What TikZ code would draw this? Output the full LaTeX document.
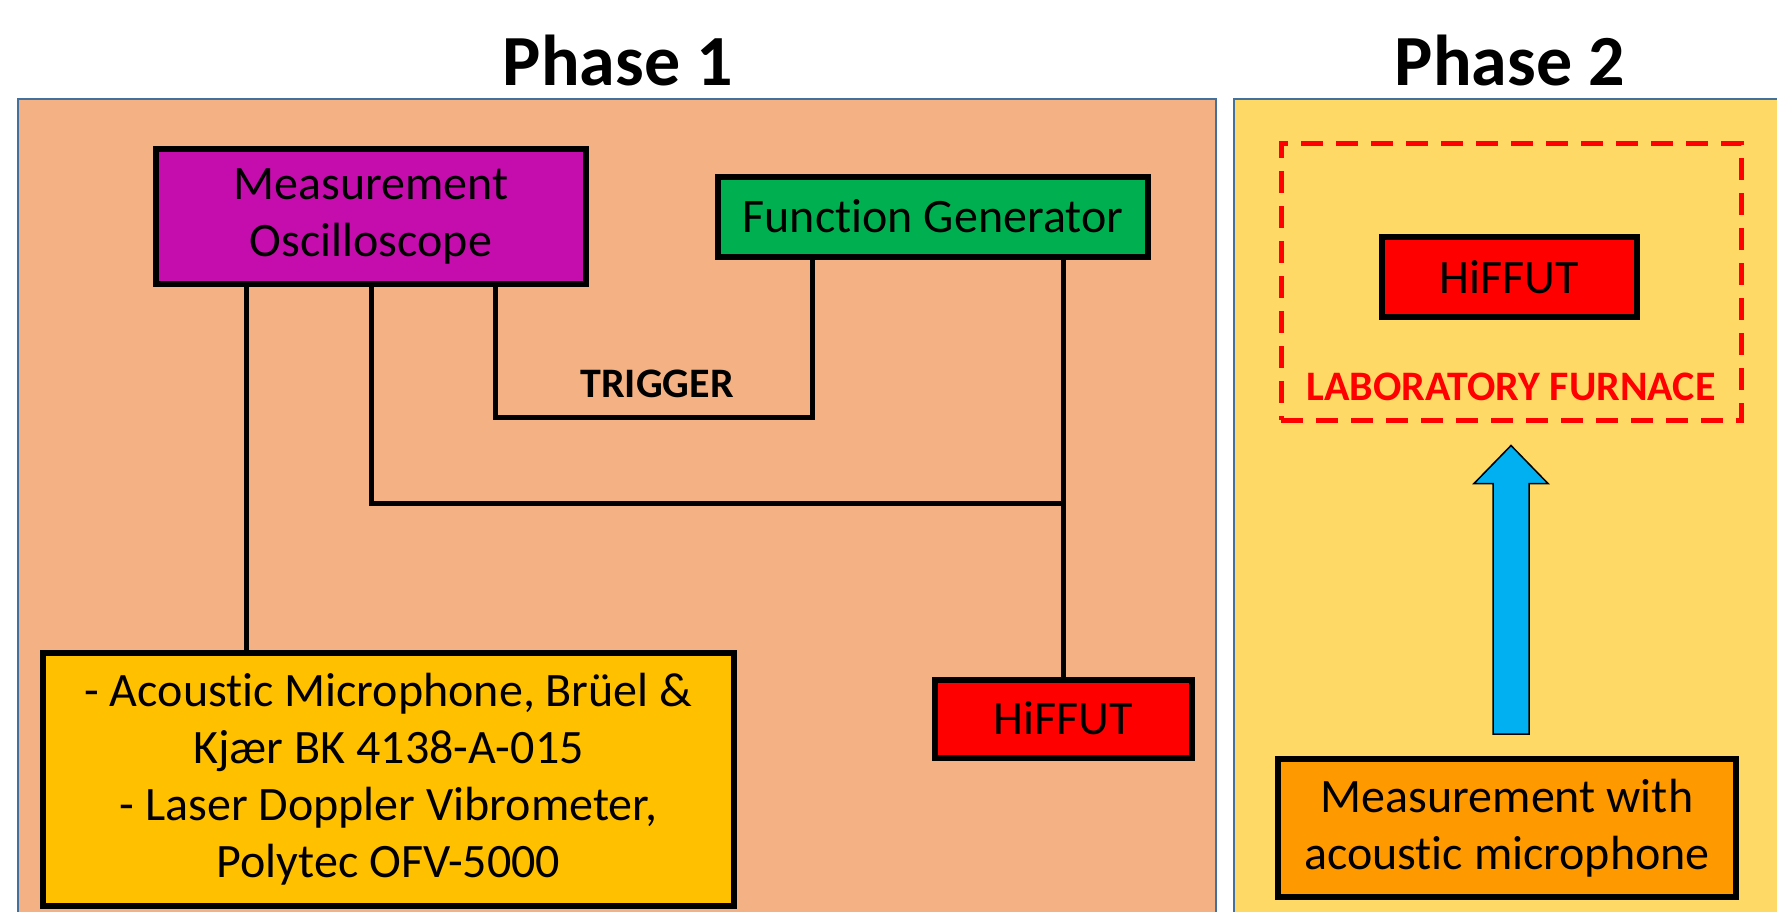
\documentclass[tikz,border=0pt]{standalone}
\usepackage{fontspec}
\setmainfont{Carlito}[Ligatures={NoCommon,NoDiscretionary,NoContextual}]
\usetikzlibrary{calc}
\definecolor{phaseone}{HTML}{F4B183}
\definecolor{phasetwo}{HTML}{FFD966}
\definecolor{panelline}{HTML}{41719C}
\definecolor{scopemag}{HTML}{C50CAC}
\definecolor{gengreen}{HTML}{00B050}
\definecolor{sensoryel}{HTML}{FFC000}
\definecolor{measorange}{HTML}{FF9900}
\definecolor{arrowblue}{HTML}{00B0F0}
\begin{document}
\begin{tikzpicture}[x=1pt,y=-1pt,
  box/.style={draw=black,line width=6pt,inner sep=0pt,align=center,
    font=\fontsize{48}{57}\selectfont},
  wire/.style={line width=5pt},
  panel/.style={draw=panelline,line width=2pt},
  title/.style={font=\fontsize{72}{80}\selectfont\bfseries},
  lbl/.style={font=\fontsize{42}{50}\selectfont\bfseries}]
\useasboundingbox (0,0) rectangle (1777,911);
% panels
\draw[panel,fill=phaseone] (18,99) rectangle (1216,930);
\draw[panel,fill=phasetwo] (1234,99) rectangle (1800,930);
\node[title,anchor=base] (ph1) at (618,85) {Phase 1};
\node[title,anchor=base] (ph2) at (1510,85) {Phase 2};
% phase 1
\node[box,fill=scopemag,minimum width=430pt,minimum height=135pt] (osc) at (371,216) {Measurement\\Oscilloscope};
\node[box,fill=gengreen,minimum width=430pt,minimum height=80pt] (fg) at (933,216.5) {Function Generator};
\node[box,fill=sensoryel,minimum width=691pt,minimum height=253pt] (sens) at (388.5,779.5)
  {- Acoustic Microphone, Brüel \&\\Kjær BK 4138-A-015\\- Laser Doppler Vibrometer,\\Polytec OFV-5000};
\node[box,fill=red,minimum width=257pt,minimum height=78pt] (hif) at (1063,718.5) {HiFFUT};
\coordinate (tap) at (1063,503);
\coordinate (trg) at (812,417);
\draw[wire] ([xshift=-125pt]osc.south) -- ([xshift=-125pt]osc.south |- sens.north);
\draw[wire] (osc.south) |- (tap);
\draw[wire] ([xshift=124pt]osc.south) |- (trg) -- (trg |- fg.south);
\draw[wire] (fg.south -| hif.north) -- (hif.north);
\node[lbl,anchor=base] (trglbl) at (657,397) {TRIGGER};
% phase 2
\node[draw=red,line width=5pt,dash pattern=on 22pt off 13pt,minimum width=460pt,minimum height=277pt] (furn) at (1511,281.5) {};
\node[box,fill=red,minimum width=255pt,minimum height=80pt] (hif2) at (1509.5,277) {HiFFUT};
\node[lbl,text=red,anchor=base] (furnlbl) at (1511,400) {LABORATORY FURNACE};
\node[box,fill=measorange,minimum width=458pt,minimum height=138pt] (meas) at (1507,828) {Measurement with\\acoustic microphone};
\coordinate (atip) at ([yshift=-23pt]furn.south);
\coordinate (afoot) at ([yshift=22pt]meas.north);
\coordinate (abot) at (atip |- afoot);
\draw[fill=arrowblue,line width=1.5pt] ($(abot)+(-18,0)$) -- ($(atip)+(-18,38)$) -- ($(atip)+(-37,38)$)
  -- (atip) -- ($(atip)+(37,38)$) -- ($(atip)+(18,38)$) -- ($(abot)+(18,0)$) -- cycle;
\end{tikzpicture}
\end{document}
